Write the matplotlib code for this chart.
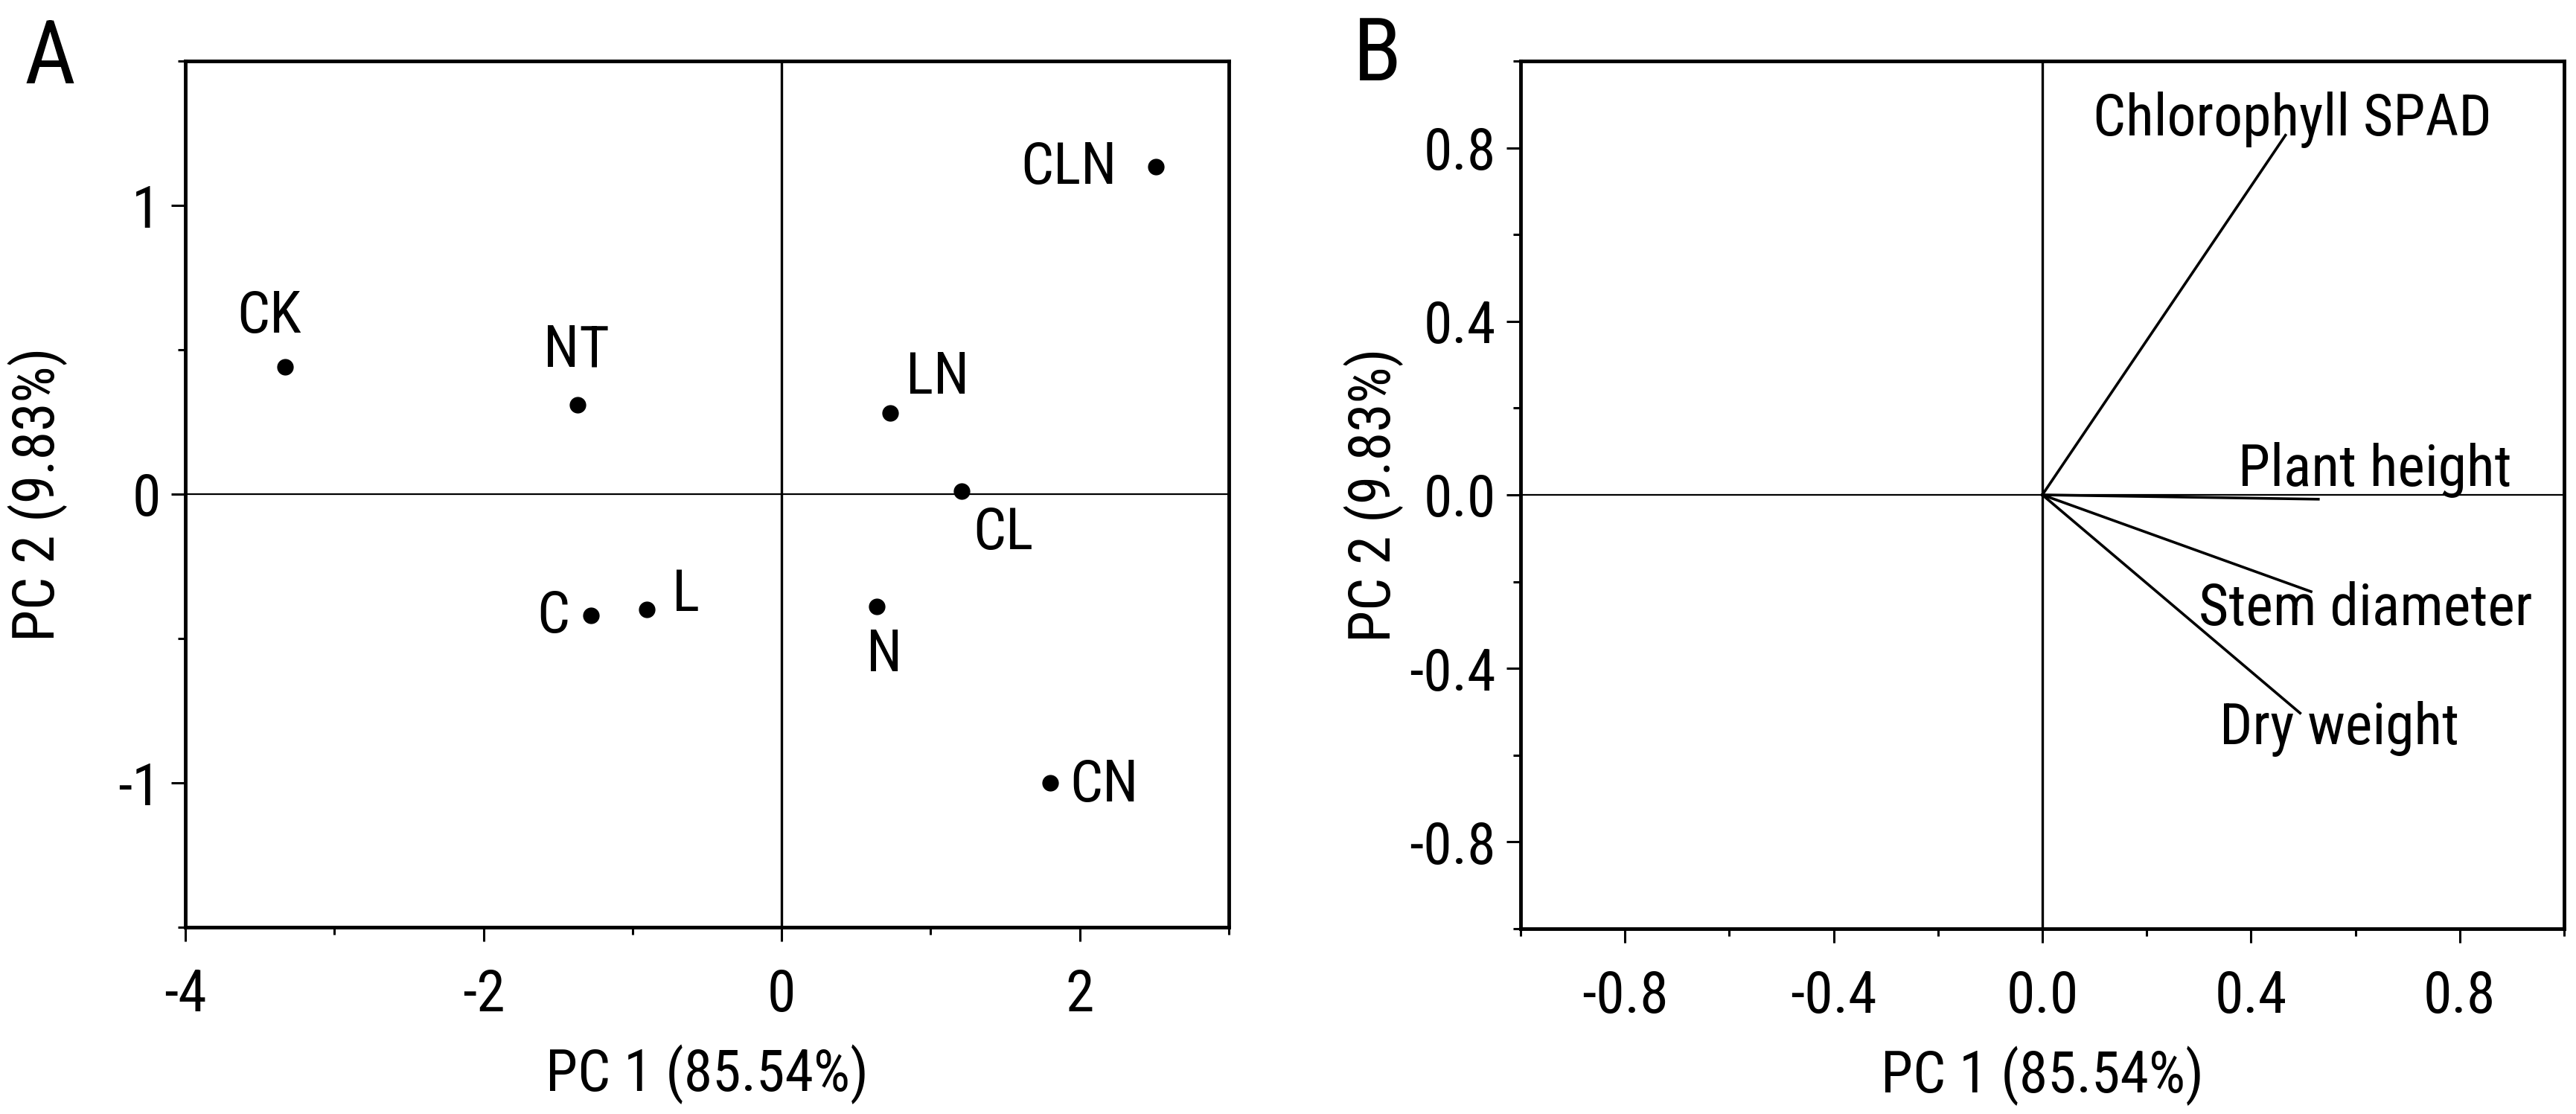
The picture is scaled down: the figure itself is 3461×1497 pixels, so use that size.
import matplotlib
matplotlib.use("Agg")
import matplotlib.pyplot as plt
from matplotlib import font_manager
from matplotlib.ticker import MultipleLocator, FixedLocator

# ---------------- data ----------------
treatments = ["CK", "NT", "C", "L", "LN", "CL", "N", "CN", "CLN"]
pc1_scores = [-3.33, -1.37, -1.28, -0.905, 0.726, 1.21, 0.64, 1.80, 2.51]
pc2_scores = [0.44, 0.31, -0.42, -0.40, 0.28, 0.01, -0.39, -1.00, 1.135]
# label anchor positions (baseline centre) for the treatment names
label_x = [-3.44, -1.377, -1.53, -0.64, 1.046, 1.485, 0.688, 2.163, 1.924]
label_y = [0.558, 0.442, -0.479, -0.405, 0.349, -0.192, -0.614, -1.064, 1.076]

traits = ["Chlorophyll SPAD", "Plant height", "Stem diameter", "Dry weight"]
load_pc1 = [0.466, 0.529, 0.515, 0.494]
load_pc2 = [0.829, -0.010, -0.223, -0.503]
trait_label_x = [0.479, 0.638, 0.619, 0.569]
trait_label_y = [0.829, 0.021, -0.300, -0.575]

xlabel = "PC 1 (85.54%)"
ylabel = "PC 2 (9.83%)"
a_xticks = [-4, -2, 0, 2]
a_yticks = [-1, 0, 1]
b_ticks = [-0.8, -0.4, 0.0, 0.4, 0.8]
b_ticklabels = ["-0.8", "-0.4", "0.0", "0.4", "0.8"]

# ---------------- fonts ----------------
names = {f.name for f in font_manager.fontManager.ttflist}
preferred = ["Liberation Sans Narrow", "Arial Narrow", "Nimbus Sans Narrow",
             "Nimbus Sans L Condensed", "Roboto Condensed", "Arimo Narrow",
             "Noto Sans Condensed", "Open Sans Condensed", "Noto Sans Display Condensed"]
narrow = None
for p in preferred:
    if p in names:
        narrow = p
        break
if narrow is None:
    for f in font_manager.fontManager.ttflist:
        n = f.name.lower()
        if ("narrow" in n or "condensed" in n) and ("sans" in n or "arial" in n or "roboto" in n):
            fl = f.fname.lower()
            if "bold" not in fl and "italic" not in fl and "light" not in fl:
                narrow = f.name
                break
fam = []
if narrow:
    fam.append(narrow)
for f in ["Liberation Sans", "DejaVu Sans"]:
    if f in names:
        fam.append(f)
plt.rcParams["font.family"] = fam
plt.rcParams["axes.unicode_minus"] = False

FS = 56 if narrow else 50
W, H = 3461, 1497
fig = plt.figure(figsize=(W / 100, H / 100), dpi=100)

def px_axes(l, r, t, b):
    return [l / W, 1 - b / H, (r - l) / W, (b - t) / H]

axA = fig.add_axes(px_axes(249, 1651, 82, 1246))
axB = fig.add_axes(px_axes(2043, 3445, 82, 1248))

for ax in (axA, axB):
    for s in ax.spines.values():
        s.set_linewidth(3.5)
    ax.tick_params(which="major", direction="out", length=14, width=2.2,
                   labelsize=FS, top=False, right=False)
    ax.tick_params(axis="y", which="major", pad=10)
    ax.tick_params(axis="x", which="major", pad=25)
    ax.tick_params(which="minor", direction="out", length=7, width=2.2,
                   top=False, right=False)
    ax.axhline(0, color="black", lw=1.6, zorder=1)
    ax.axvline(0, color="black", lw=2.4, zorder=1)
    ax.set_xlabel(xlabel, fontsize=FS)
    ax.set_ylabel(ylabel, fontsize=FS)

# ---- Panel A ----
axA.set_xlim(-4, 3)
axA.set_ylim(-1.5, 1.5)
axA.xaxis.set_major_locator(FixedLocator(a_xticks))
axA.yaxis.set_major_locator(FixedLocator(a_yticks))
axA.xaxis.set_minor_locator(MultipleLocator(1))
axA.yaxis.set_minor_locator(MultipleLocator(0.5))
axA.plot(pc1_scores, pc2_scores, "o", color="black", ms=15, zorder=3)
for name, lx, ly in zip(treatments, label_x, label_y):
    axA.text(lx, ly, name, fontsize=FS, ha="center", va="baseline")
axA.xaxis.set_label_coords(0.5, -0.135)
axA.yaxis.set_label_coords(-0.113, 0.5)

# ---- Panel B ----
axB.set_xlim(-1, 1)
axB.set_ylim(-1, 1)
axB.xaxis.set_major_locator(FixedLocator(b_ticks))
axB.yaxis.set_major_locator(FixedLocator(b_ticks))
axB.set_xticklabels(b_ticklabels)
axB.set_yticklabels(b_ticklabels)
axB.xaxis.set_minor_locator(MultipleLocator(0.2))
axB.yaxis.set_minor_locator(MultipleLocator(0.2))
for name, x, y, lx, ly in zip(traits, load_pc1, load_pc2, trait_label_x, trait_label_y):
    axB.plot([0, x], [0, y], color="black", lw=2.6, zorder=2)
    axB.text(lx, ly, name, fontsize=FS, ha="center", va="baseline")
axB.xaxis.set_label_coords(0.5, -0.135)
axB.yaxis.set_label_coords(-0.112, 0.5)

fig.text(33 / W, 1 - 112 / H, "A", fontsize=86, ha="left", va="baseline")
fig.text(1818 / W, 1 - 108 / H, "B", fontsize=86, ha="left", va="baseline")

fig.savefig("out.png", dpi=100)
